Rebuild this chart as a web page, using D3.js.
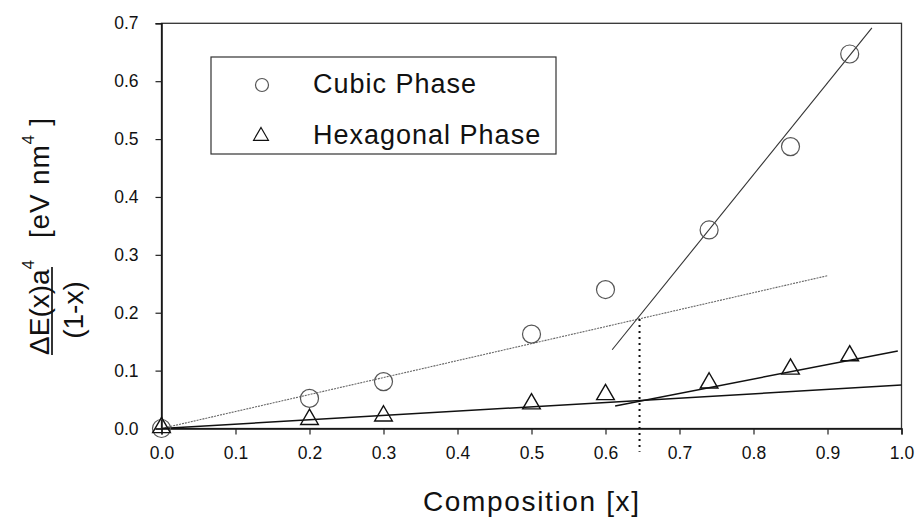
<!DOCTYPE html>
<html><head><meta charset="utf-8">
<script src="https://cdn.jsdelivr.net/npm/d3@7"></script>
<style>
html,body{margin:0;padding:0;background:#fff;}
svg{display:block;font-family:"Liberation Sans",Arial,Helvetica,sans-serif;}
</style></head>
<body>
<svg id="c" width="919" height="524"></svg>
<script>
// ---- data ----
const compositions = [0, 0.2, 0.3, 0.5, 0.6, 0.74, 0.85, 0.93];
const cubicValues = [0, 0.052, 0.081, 0.163, 0.240, 0.343, 0.487, 0.647];
const hexValues = [0, 0.014, 0.020, 0.041, 0.057, 0.077, 0.101, 0.124];
const cubicFitLow = [[0, 0], [0.9, 0.264]];
const cubicFitHigh = [[0.609, 0.136], [0.96, 0.692]];
const hexFitLow = [[0, 0], [1.0, 0.075]];
const hexFitHigh = [[0.613, 0.039], [0.995, 0.134]];
const crossover = [[0.646, 0.189], [0.646, -0.04]];
const xTicks = [0, 0.1, 0.2, 0.3, 0.4, 0.5, 0.6, 0.7, 0.8, 0.9, 1.0];
const yTicks = [0, 0.1, 0.2, 0.3, 0.4, 0.5, 0.6, 0.7];
const legendLabels = ["Cubic Phase", "Hexagonal Phase"];

const svg = d3.select("#c");
const x = d3.scaleLinear().domain([0, 1]).range([161.5, 901.5]);
const y = d3.scaleLinear().domain([0, 0.7]).range([428.5, 23.3]);

// frame
svg.append("rect").attr("x", x(0)).attr("y", y(0.7))
  .attr("width", x(1) - x(0)).attr("height", y(0) - y(0.7))
  .attr("fill", "none").attr("stroke", "#333").attr("stroke-width", 1.3);

const fmt = d3.format(".1f");
const xAxis = svg.append("g").attr("transform", `translate(0,${y(0)})`)
  .call(d3.axisBottom(x).tickValues(xTicks).tickFormat(fmt).tickSize(6).tickPadding(12));
const yAxis = svg.append("g").attr("transform", `translate(${x(0)},0)`)
  .call(d3.axisLeft(y).tickValues(yTicks).tickFormat(fmt).tickSize(6).tickPadding(17));
[xAxis, yAxis].forEach(a => {
  a.select(".domain").attr("stroke", "#111").attr("stroke-width", 1.5);
  a.selectAll(".tick line").attr("stroke", "#222").attr("stroke-width", 1.2);
  a.selectAll("text").attr("font-size", 17.5).attr("fill", "#111")
    .attr("font-family", '"Liberation Sans",Arial,sans-serif');
});

// fit lines
const line = d3.line().x(d => x(d[0])).y(d => y(d[1]));
svg.append("path").attr("d", line(cubicFitLow)).attr("fill", "none")
  .attr("stroke", "#666").attr("stroke-width", 1.1).attr("stroke-dasharray", "2,1");
svg.append("path").attr("d", line(cubicFitHigh)).attr("fill", "none")
  .attr("stroke", "#333").attr("stroke-width", 1.1);
svg.append("path").attr("d", line(hexFitLow)).attr("fill", "none")
  .attr("stroke", "#111").attr("stroke-width", 1.5);
svg.append("path").attr("d", line(hexFitHigh)).attr("fill", "none")
  .attr("stroke", "#111").attr("stroke-width", 1.5);
svg.append("path").attr("d", line(crossover)).attr("fill", "none")
  .attr("stroke", "#111").attr("stroke-width", 2).attr("stroke-dasharray", "2,4");

// markers
const tri = d3.symbol().type(d3.symbolTriangle).size(135);
svg.append("g").selectAll("circle").data(compositions).join("circle")
  .attr("cx", d => x(d)).attr("cy", (d, i) => y(cubicValues[i])).attr("r", 9)
  .attr("fill", "none").attr("stroke", "#555").attr("stroke-width", 1.2);
svg.append("g").selectAll("path").data(compositions).join("path")
  .attr("d", tri).attr("transform", (d, i) => `translate(${x(d)},${y(hexValues[i]) - 1})`)
  .attr("fill", "none").attr("stroke", "#111").attr("stroke-width", 1.4);

// legend
const lg = svg.append("g");
lg.append("rect").attr("x", 211).attr("y", 57).attr("width", 345).attr("height", 97)
  .attr("fill", "#fff").attr("stroke", "#333").attr("stroke-width", 1.2);
lg.append("circle").attr("cx", 262).attr("cy", 85).attr("r", 6.5)
  .attr("fill", "none").attr("stroke", "#555").attr("stroke-width", 1.2);
lg.append("path").attr("d", d3.symbol().type(d3.symbolTriangle).size(95))
  .attr("transform", "translate(261,136)").attr("fill", "none").attr("stroke", "#111").attr("stroke-width", 1.2);
lg.selectAll("text").data(legendLabels).join("text")
  .attr("x", 313).attr("y", (d, i) => 93 + i * 51).attr("font-size", 27).attr("fill", "#111")
  .attr("letter-spacing", 1)
  .text(d => d);

// x title
svg.append("text").attr("x", 531).attr("y", 511).attr("text-anchor", "middle")
  .attr("font-size", 28).attr("fill", "#111")
  .attr("textLength", 216).attr("lengthAdjust", "spacing")
  .text("Composition [x]");

// y title (rotated)
const yt = svg.append("g").attr("transform", "translate(49,355) rotate(-90)").attr("fill", "#111");
const t1 = yt.append("text").attr("x", 0).attr("y", 0).attr("font-size", 28);
t1.append("tspan").text("ΔE(x)a");
t1.append("tspan").attr("font-size", 17).attr("dy", -15).text("4");
yt.append("line").attr("x1", 0).attr("x2", 88).attr("y1", 3).attr("y2", 3)
  .attr("stroke", "#111").attr("stroke-width", 1.7);
yt.append("text").attr("x", 45).attr("y", 34).attr("text-anchor", "middle")
  .attr("font-size", 28).text("(1-x)");
const t2 = yt.append("text").attr("x", 117).attr("y", 0).attr("font-size", 28)
  .attr("letter-spacing", 0.8);
t2.append("tspan").text("[eV nm");
t2.append("tspan").attr("font-size", 17).attr("dy", -15).text("4");
t2.append("tspan").attr("dy", 15).text(" ]");
</script>
</body></html>
